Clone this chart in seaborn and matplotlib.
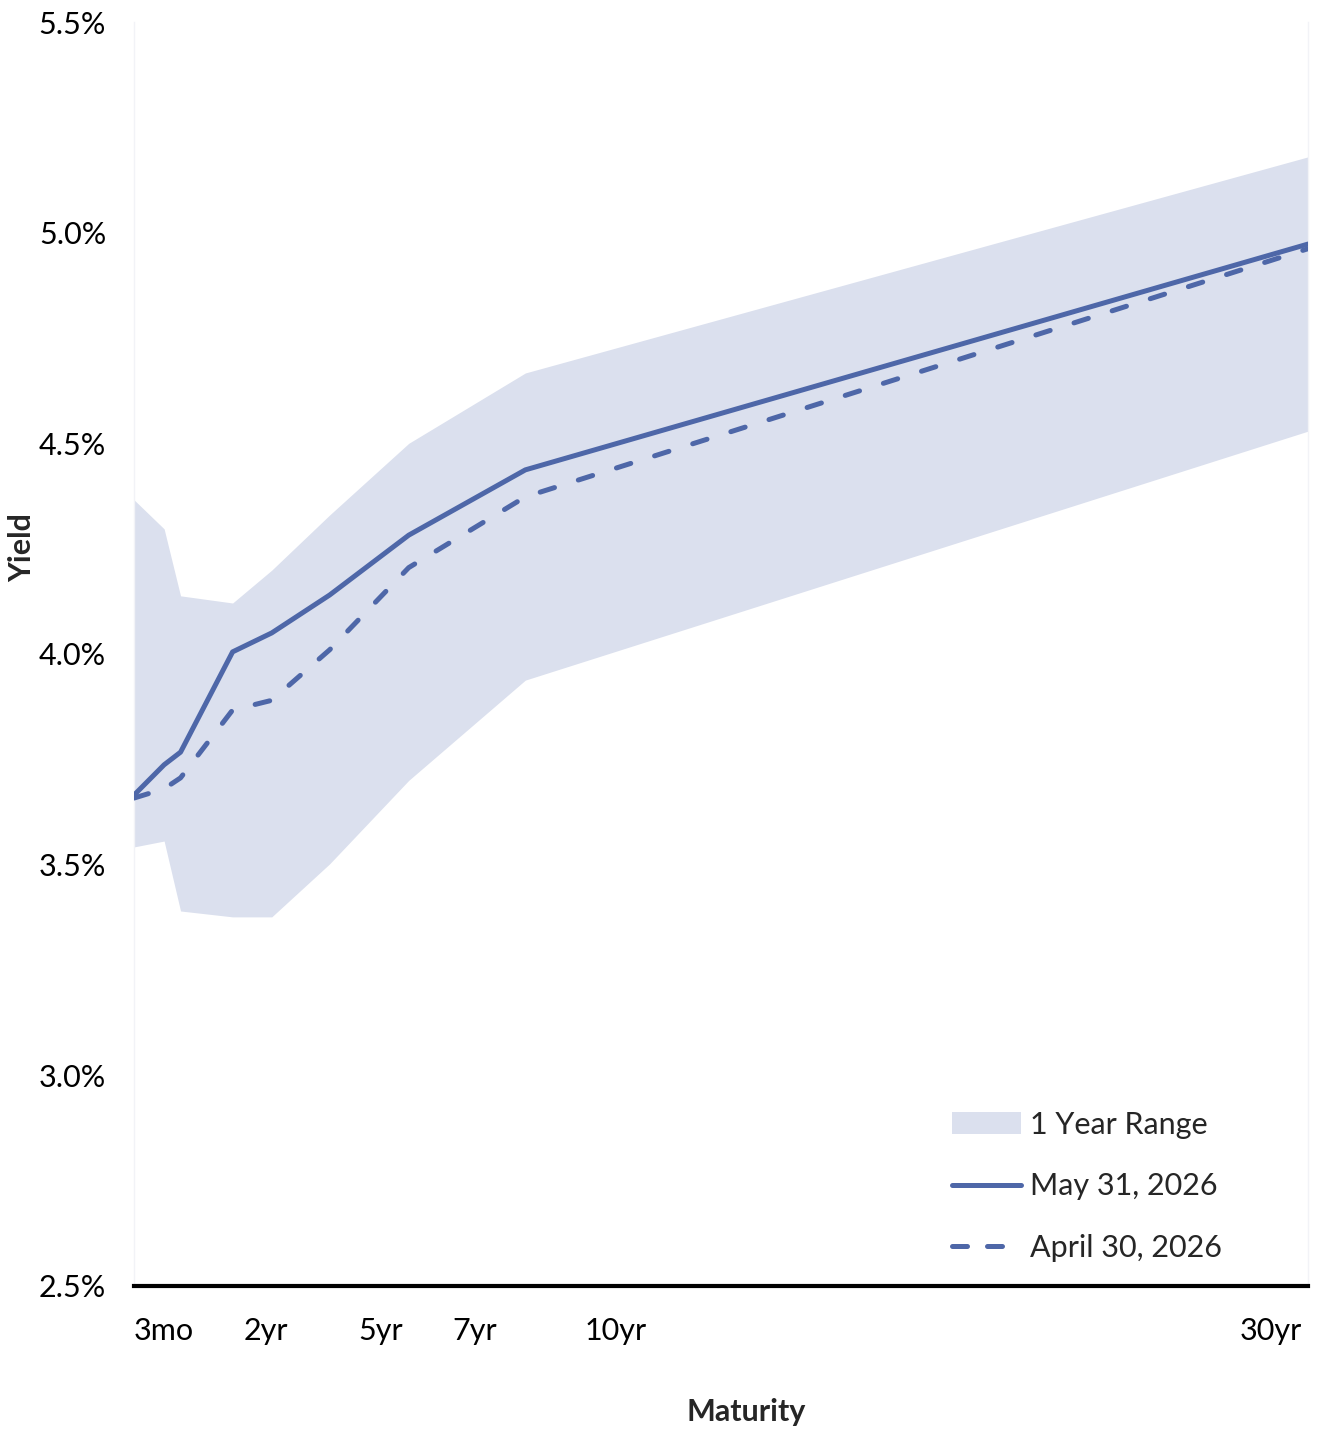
import numpy as np
import pandas as pd
import matplotlib
matplotlib.use("Agg")
import matplotlib.pyplot as plt
import seaborn as sns
from matplotlib.lines import Line2D
from matplotlib.patches import Patch

# maturity positions along the curve (in years, as drawn on the chart)
maturity = [0.0, 0.77, 1.19, 2.52, 3.52, 5.0, 7.02, 10.0, 30.0]

# yields in %
may_31 = [3.665, 3.737, 3.767, 4.005, 4.05, 4.14, 4.282, 4.437, 4.973]
apr_30 = [3.658, 3.68, 3.706, 3.867, 3.89, 4.01, 4.205, 4.373, 4.962]

# 1 year range
range_high = [4.366, 4.297, 4.138, 4.121, 4.199, 4.33, 4.5, 4.667, 5.18]
range_low = [3.542, 3.556, 3.39, 3.376, 3.376, 3.502, 3.70, 3.938, 4.529]

tick_labels = ["3mo", "2yr", "5yr", "7yr", "10yr", "30yr"]
tick_pos = [0.75, 3.36, 6.3, 8.7, 12.3, 29.05]

line_color = "#4e67a8"
band_color = "#dbe0ee"

sns.set_theme(style="white")
plt.rcParams["font.family"] = ["Lato", "DejaVu Sans"]

df = pd.DataFrame({
    "maturity": maturity * 2,
    "yield": may_31 + apr_30,
    "series": ["May 31, 2026"] * len(maturity) + ["April 30, 2026"] * len(maturity),
})

fig = plt.figure(figsize=(13.2, 14.29), dpi=100)
ax = fig.add_axes([0.1015, 0.1001, 0.8895, 0.8845])

ax.fill_between(maturity, range_low, range_high, color=band_color, lw=0, zorder=1)

sns.lineplot(data=df, x="maturity", y="yield", hue="series", style="series",
             palette={"May 31, 2026": line_color, "April 30, 2026": line_color},
             dashes={"May 31, 2026": "", "April 30, 2026": (3, 5)},
             linewidth=3.6, legend=False, ax=ax, zorder=3)
for ln in ax.lines:
    ln.set_solid_capstyle("round")
    ln.set_dash_capstyle("round")
    ln.set_solid_joinstyle("round")

ax.set_xlim(0, 30)
ax.set_ylim(2.5, 5.5)
ax.set_yticks([2.5, 3.0, 3.5, 4.0, 4.5, 5.0, 5.5])
ax.set_yticklabels([f"{v:.1f}%" for v in [2.5, 3.0, 3.5, 4.0, 4.5, 5.0, 5.5]])
ax.set_xticks(tick_pos)
ax.set_xticklabels(tick_labels)
ax.tick_params(axis="both", length=0, labelsize=22, colors="black")
ax.tick_params(axis="y", pad=20)
ax.tick_params(axis="x", pad=22)

ax.spines["top"].set_visible(False)
for s in ["left", "right"]:
    ax.spines[s].set_color("#f2f3f7")
    ax.spines[s].set_linewidth(1.0)
ax.spines["bottom"].set_color("black")
ax.spines["bottom"].set_linewidth(3)

ax.set_xlabel("Maturity", fontsize=22, fontweight="bold", va="center")
ax.set_ylabel("Yield", fontsize=22, fontweight="bold", va="center")
ax.xaxis.set_label_coords(0.521, -0.0997)
ax.yaxis.set_label_coords(-0.0954, 0.584)

handles = [
    Patch(facecolor=band_color, edgecolor="none", label="1 Year Range"),
    Line2D([0], [0], color=line_color, lw=3.6, solid_capstyle="round", label="May 31, 2026"),
    Line2D([0], [0], color=line_color, lw=3.6, linestyle=(0, (3, 4)), dash_capstyle="round",
           label="April 30, 2026"),
]
ax.legend(handles=handles, loc="lower left", bbox_to_anchor=(0.6835, 0.007),
          frameon=False, fontsize=22, handlelength=2.25, handleheight=0.7,
          handletextpad=0.3, labelspacing=1.1, borderpad=0)

fig.savefig("out.png", dpi=100)
